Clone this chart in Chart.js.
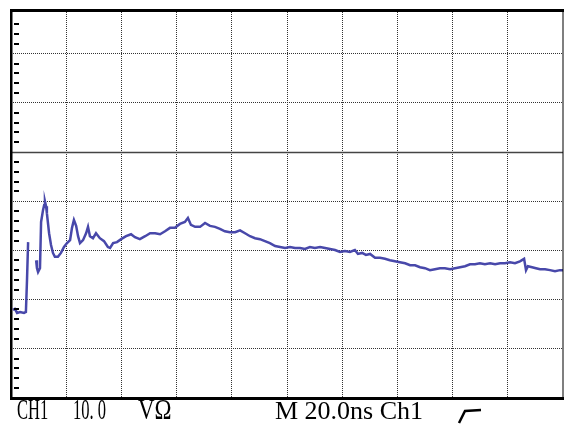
<!DOCTYPE html>
<html>
<head>
<meta charset="utf-8">
<script src="https://cdn.jsdelivr.net/npm/chart.js@4.4.1/dist/chart.umd.min.js"></script>
<style>
  html, body { margin: 0; padding: 0; background: #fff; }
  #wrap { position: relative; width: 565px; height: 425px; overflow: hidden; }
  #scope { position: absolute; left: 0; top: 0; }
  .lbl { position: absolute; font-family: "Liberation Serif", serif; color: #000;
         white-space: pre; transform-origin: 0 0; line-height: 27px; }
</style>
</head>
<body>
<div id="wrap">
  <canvas id="scope" width="565" height="425"></canvas>
  <div class="lbl" style="left:17px; top:396px; font-size:29px; transform:scaleX(0.57)">CH1</div>
  <div class="lbl" style="left:73px; top:396px; font-size:29px; transform:scaleX(0.57)">10. 0</div>
  <div class="lbl" style="left:138px; top:396px; font-size:29px; transform:scaleX(0.79)">VΩ</div>
  <div class="lbl" style="left:275px; top:397px; font-size:26px;">M 20.0ns Ch1</div>
  <svg style="position:absolute; left:0; top:0" width="565" height="425">
    <polyline points="459,423 465,411 481,410" fill="none" stroke="#000" stroke-width="2.5"/>
  </svg>
</div>
<script>
// ejes: 20 ns/div en x, 10 V/div en y
const xTicks = [20, 40, 60, 80, 100, 120, 140, 160, 180];
const yTicks = [-40, -30, -20, -10, 0, 10, 20];

// tiempo (ns)
const timeNs = [
  0.7, 1.4, 2.2, 3.3, 4.7, 5.4, 5.8, 6.2,
  7.5,
  9.1, 9.4, 9.8, 10.5, 10.9, 11.6, 12.0, 12.3, 12.7, 13.0,
  13.8, 14.5, 15.2, 15.9, 17.0, 18.1, 19.2, 20.3, 21.4, 22.1,
  22.8, 23.6, 24.3, 25.0, 26.1, 27.2, 27.9, 28.6, 29.7, 30.8,
  32.2, 33.7, 35.1, 35.9, 37.0, 38.4, 39.9, 41.7, 43.5, 44.9,
  46.7, 48.6,
  50.4, 52.2, 54.0, 55.8, 57.6, 59.4, 61.2, 63.0, 64.1, 65.2, 66.7,
  68.5, 70.3, 72.1, 73.9, 75.7, 77.5, 79.3, 81.2, 83.0, 84.8,
  86.6, 88.4, 90.2, 92.0, 93.8, 95.7, 97.5, 99.3, 101.1, 102.9,
  104.7, 106.5, 108.3, 110.1, 112.0, 113.8, 115.6, 117.4, 119.2, 121.0,
  122.8, 124.6,
  125.7, 127.2, 128.6,
  130.1, 131.9, 133.7, 135.5, 137.3, 139.1, 140.9, 142.8, 144.6, 146.4,
  148.2, 150.0, 151.8, 153.6, 155.4, 157.2, 159.1, 160.9, 162.7, 164.5,
  166.3, 168.1, 169.9, 171.7, 173.6, 175.4, 177.2, 179.0, 180.8, 182.6,
  184.4,
  185.9, 186.6, 187.3, 188.8, 190.2,
  191.7, 193.5, 195.3, 197.1, 198.9, 200.0
];

// tension CH1 (V), null = hueco en la traza
const ch1Volts = [
  -32.1, -31.9, -32.7, -32.5, -32.7, -32.5, -26.0, -18.3,
  null,
  -22.0, -23.6, -24.4, -23.6, -14.2, -11.8, -10.8, -10.0, -11.0, -12.4,
  -16.5, -18.9, -20.5, -21.3, -21.3, -20.5, -19.3, -18.5, -17.9, -15.4,
  -13.8, -15.0, -17.1, -18.5, -17.9, -16.5, -15.2, -17.1, -17.5, -16.5,
  -17.5, -18.1, -19.3, -19.5, -18.5, -18.3, -17.7, -17.1, -16.7, -17.3,
  -17.7, -17.1,
  -16.5, -16.5, -16.7, -16.1, -15.4, -15.4, -14.6, -14.2, -13.4, -14.8, -15.2,
  -15.2, -14.4, -15.0, -15.2, -15.6, -16.1, -16.3, -16.3, -15.9, -16.5,
  -17.1, -17.5, -17.7, -18.1, -18.5, -19.1, -19.3, -19.5, -19.3, -19.5,
  -19.5, -19.7, -19.3, -19.5, -19.3, -19.5, -19.7, -19.9, -20.3, -20.1,
  -20.3, -19.9,
  -20.7, -20.5, -20.9,
  -20.7, -21.5, -21.5, -21.7, -22.0, -22.2, -22.4, -22.6, -23.0, -23.0,
  -23.4, -23.6, -24.0, -23.8, -23.6, -23.6, -23.8, -23.6, -23.4, -23.2,
  -22.8, -22.8, -22.6, -22.8, -22.6, -22.8, -22.6, -22.6, -22.4, -22.6,
  -22.2,
  -21.7, -24.0, -23.2, -23.4, -23.6,
  -23.8, -23.8, -24.0, -24.2, -24.0, -24.0
];

const puntos = timeNs.map((t, i) => ({ x: t, y: ch1Volts[i] }));

// marco, linea de referencia y marcas pequeñas a la izquierda
const marcoPlugin = {
  id: "marco",
  afterDraw(chart) {
    const { ctx, chartArea: a, scales } = chart;
    ctx.save();
    // linea solida en 0 V
    const y0 = Math.round(scales.y.getPixelForValue(0)) + 0.5;
    ctx.strokeStyle = "#444";
    ctx.lineWidth = 1.5;
    ctx.beginPath();
    ctx.moveTo(a.left, y0);
    ctx.lineTo(a.right, y0);
    ctx.stroke();

    // marcas cada 2 V
    ctx.fillStyle = "#000";
    for (let v = -48; v <= 26; v += 2) {
      if (v % 10 === 0) continue;
      const py = Math.round(scales.y.getPixelForValue(v));
      ctx.fillRect(a.left + 3, py - 1, 5, 2);
    }

    // bordes
    ctx.fillRect(a.left - 1, a.top - 1, a.right - a.left + 2, 3);
    ctx.fillRect(a.left - 1, a.bottom - 1, a.right - a.left + 2, 3);
    ctx.fillRect(a.left - 1, a.top - 1, 2.5, a.bottom - a.top + 2);
    ctx.fillRect(a.right - 0.5, a.top - 1, 1, a.bottom - a.top + 2);
    ctx.restore();
  },
};

const ctx = document.getElementById("scope").getContext("2d");

new Chart(ctx, {
  type: "line",
  data: {
    datasets: [
      {
        label: "CH1",
        data: puntos,
        borderColor: "#4848aa",
        borderWidth: 2.5,
        pointRadius: 0,
        tension: 0,
        spanGaps: false,
      },
    ],
  },
  options: {
    responsive: false,
    animation: false,
    devicePixelRatio: 1,
    layout: {
      padding: { left: 11, top: 10, right: 2, bottom: 27 },
    },
    plugins: {
      legend: { display: false },
      tooltip: { enabled: false },
    },
    scales: {
      x: {
        type: "linear",
        min: 0,
        max: 200,
        afterBuildTicks: (scale) => {
          scale.ticks = xTicks.map((v) => ({ value: v }));
        },
        ticks: { display: false },
        grid: { color: "#333", lineWidth: 1, drawTicks: false },
        border: { display: false, dash: [1, 1] },
      },
      y: {
        type: "linear",
        min: -50,
        max: 28.9,
        afterBuildTicks: (scale) => {
          scale.ticks = yTicks.map((v) => ({ value: v }));
        },
        ticks: { display: false },
        grid: { color: "#333", lineWidth: 1, drawTicks: false },
        border: { display: false, dash: [1, 1] },
      },
    },
  },
  plugins: [marcoPlugin],
});
</script>
</body>
</html>
